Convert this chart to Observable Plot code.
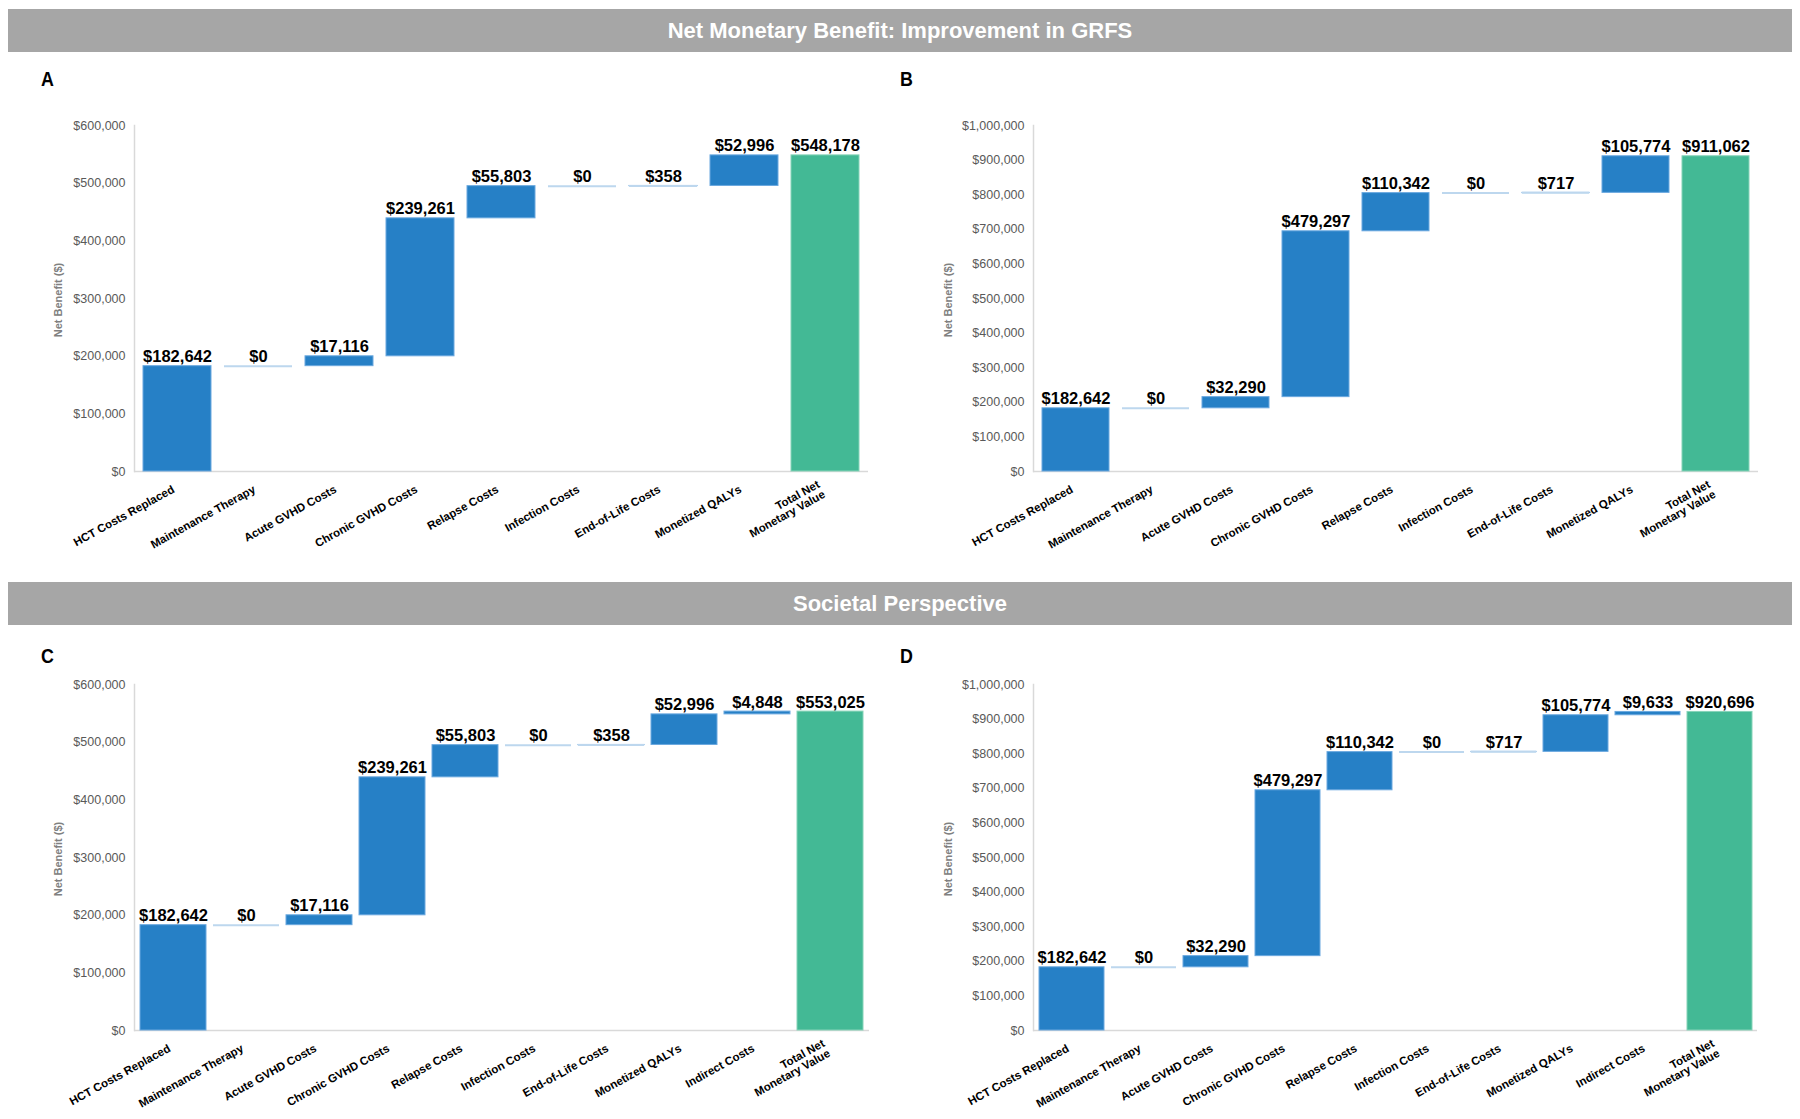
<!DOCTYPE html>
<html>
<head>
<meta charset="utf-8">
<script src="https://cdn.jsdelivr.net/npm/d3@7"></script>
<script src="https://cdn.jsdelivr.net/npm/@observablehq/plot@0.6"></script>
<style>
  body { margin: 0; background: #fff; font-family: "Liberation Sans", Arial, sans-serif; }
  #root { position: relative; width: 1800px; height: 1119px; overflow: hidden; background: #fff; }
  .banner { position: absolute; left: 8px; width: 1784px; height: 43px; background: #a6a6a6; color: #fff;
            font-weight: bold; font-size: 22px; display: flex; align-items: center; justify-content: center;
            font-family: "Liberation Sans", Arial, sans-serif; }
  .letter { position: absolute; font-weight: bold; font-size: 21px; line-height: 21px;
            font-family: "Liberation Sans", Arial, sans-serif; transform: scaleX(0.85); transform-origin: left top; }
  .ytitle { position: absolute; width: 200px; height: 14px; line-height: 14px; text-align: center;
            font-size: 11px; font-weight: bold; color: #808080; transform: translate(-50%, -50%) rotate(-90deg); }
  .panel { position: absolute; }
</style>
</head>
<body>
<div id="root">
  <div class="banner" style="top:9px">Net Monetary Benefit: Improvement in GRFS</div>
  <div class="banner" style="top:582px">Societal Perspective</div>
  <div class="letter" style="left:41px;top:68px">A</div>
  <div class="letter" style="left:900px;top:68px">B</div>
  <div class="letter" style="left:41px;top:645px">C</div>
  <div class="letter" style="left:900px;top:645px">D</div>
  <div class="ytitle" style="left:58px;top:300px">Net Benefit ($)</div>
  <div class="ytitle" style="left:948px;top:300px">Net Benefit ($)</div>
  <div class="ytitle" style="left:58px;top:859px">Net Benefit ($)</div>
  <div class="ytitle" style="left:948px;top:859px">Net Benefit ($)</div>
</div>
<script>
// ---- Data ----
const categoriesHealth = ["HCT Costs Replaced", "Maintenance Therapy", "Acute GVHD Costs", "Chronic GVHD Costs",
  "Relapse Costs", "Infection Costs", "End-of-Life Costs", "Monetized QALYs", "Total Net\nMonetary Value"];
const categoriesSocietal = ["HCT Costs Replaced", "Maintenance Therapy", "Acute GVHD Costs", "Chronic GVHD Costs",
  "Relapse Costs", "Infection Costs", "End-of-Life Costs", "Monetized QALYs", "Indirect Costs", "Total Net\nMonetary Value"];

const valuesA = [182642, 0, 17116, 239261, 55803, 0, 358, 52996];
const totalA = 548178;
const valuesB = [182642, 0, 32290, 479297, 110342, 0, 717, 105774];
const totalB = 911062;
const valuesC = [182642, 0, 17116, 239261, 55803, 0, 358, 52996, 4848];
const totalC = 553025;
const valuesD = [182642, 0, 32290, 479297, 110342, 0, 717, 105774, 9633];
const totalD = 920696;

const yTicks600k = [0, 100000, 200000, 300000, 400000, 500000, 600000];
const yTicks1m = [0, 100000, 200000, 300000, 400000, 500000, 600000, 700000, 800000, 900000, 1000000];

// ---- Helpers ----
const money = d => "$" + d3.format(",")(d);
const BLUE = "#2680c6", BLUE_EDGE = "#6aa8df", GREEN = "#43b995", GREEN_EDGE = "#86d3b8", ZERO = "#bdd7ee";

function buildRows(cats, vals, total) {
  let cum = 0;
  const rows = vals.map((v, i) => {
    const s = cum; cum += v;
    return {cat: cats[i], y1: s, y2: cum, value: v, total: false};
  });
  rows.push({cat: cats[cats.length - 1], y1: 0, y2: total, value: total, total: true});
  return rows;
}

function panel({cats, vals, total, ticks, ymax, left, top, width, mL, mR, pad}) {
  const rows = buildRows(cats, vals, total);
  const tiny = rows.filter(d => !d.total && d.value < 1000);
  const chart = Plot.plot({
    width, height: 460,
    marginLeft: mL, marginRight: mR, marginTop: 25, marginBottom: 89,
    style: {fontFamily: '"Liberation Sans", Arial, sans-serif', background: "transparent", overflow: "visible"},
    x: {domain: cats, paddingInner: pad, paddingOuter: pad / 2, label: null},
    y: {domain: [0, ymax], label: null},
    marks: [
      Plot.ruleY([0], {stroke: "#d9d9d9", strokeWidth: 1.5}),
      Plot.frame({anchor: "left", stroke: "#d9d9d9", strokeWidth: 1.5}),
      Plot.barY(rows, {x: "cat", y1: "y1", y2: "y2",
        fill: d => d.total ? GREEN : BLUE, stroke: d => d.total ? GREEN_EDGE : BLUE_EDGE, strokeWidth: 1}),
      Plot.tickY(tiny, {x: "cat", y: "y2", stroke: ZERO, strokeWidth: 2}),
      Plot.text(rows, {x: "cat", y: "y2", text: d => money(d.value), lineAnchor: "bottom", dy: -4,
        fontWeight: "bold", fontSize: 16.5, fill: "#000"}),
      Plot.axisY({ticks, tickSize: 0, tickPadding: 9, tickFormat: money, fontSize: 12.5, color: "#595959", label: null}),
      Plot.axisX({tickSize: 0, tickPadding: 14, tickRotate: -29, dx: -4, dy: 3, fontSize: 11.5, fontWeight: "bold", color: "#000", label: null})
    ]
  });
  chart.classList.add("panel");
  chart.style.left = left + "px";
  chart.style.top = top + "px";
  document.getElementById("root").appendChild(chart);
}

panel({cats: categoriesHealth, vals: valuesA, total: totalA, ticks: yTicks600k, ymax: 600000,
  left: 0, top: 100, width: 890, mL: 134, mR: 22, pad: 0.166});
panel({cats: categoriesHealth, vals: valuesB, total: totalB, ticks: yTicks1m, ymax: 1000000,
  left: 900, top: 100, width: 900, mL: 133, mR: 42, pad: 0.168});
panel({cats: categoriesSocietal, vals: valuesC, total: totalC, ticks: yTicks600k, ymax: 600000,
  left: 0, top: 659, width: 890, mL: 134, mR: 21, pad: 0.095});
panel({cats: categoriesSocietal, vals: valuesD, total: totalD, ticks: yTicks1m, ymax: 1000000,
  left: 900, top: 659, width: 900, mL: 133, mR: 43, pad: 0.10});
</script>
</body>
</html>
